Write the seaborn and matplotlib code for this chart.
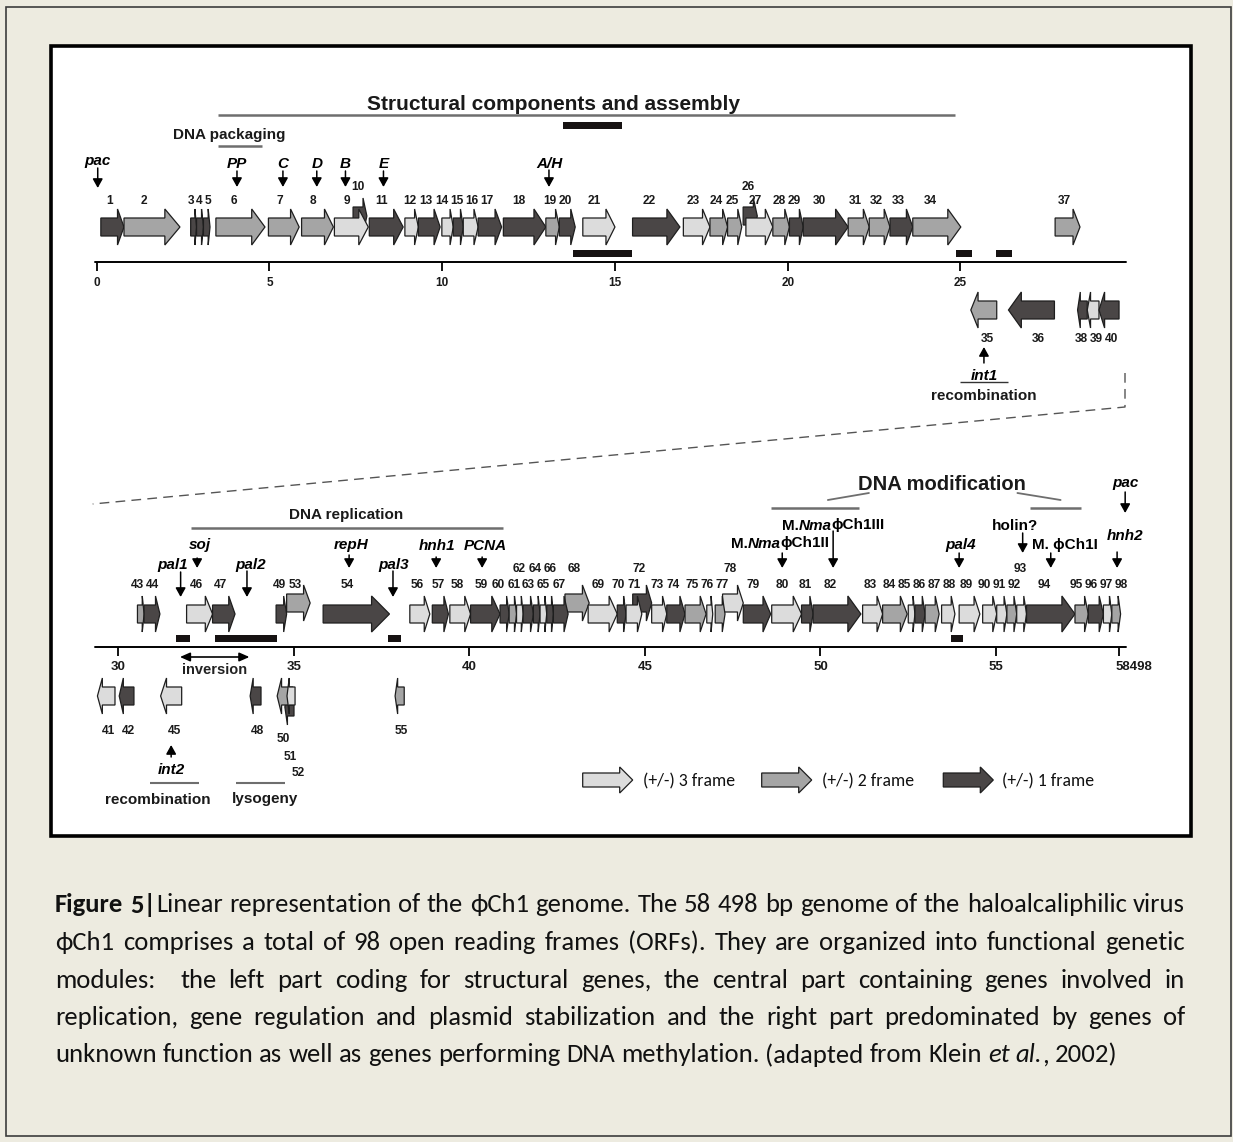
import matplotlib
matplotlib.use("Agg")
import matplotlib.pyplot as plt
from matplotlib.patches import Polygon, Rectangle
from matplotlib import font_manager
import seaborn as sns

# ------------------------------------------------------------------ ORFs (kb)
orf_id = list(range(1, 99))
orf_start = [
    0.12, 0.79, 2.72, 2.89, 3.09, 3.45, 4.97, 5.93, 6.88, 7.42,
    7.89, 8.92, 9.31, 9.99, 10.32, 10.61, 11.04, 11.77, 13.00, 13.39,
    14.07, 15.51, 16.98, 17.75, 18.26, 18.71, 18.79, 19.57, 20.05, 20.45,
    21.75, 22.36, 22.96, 23.62, 25.30, 26.39, 27.74, 28.39, 28.67, 29.01,
    29.40, 30.02, 30.54, 30.73, 31.20, 31.94, 32.68, 33.75, 34.49, 34.52,
    34.80, 34.74, 34.79, 35.83, 37.88, 38.30, 38.94, 39.44, 40.03, 40.87,
    41.13, 41.34, 41.53, 41.82, 42.01, 42.20, 42.39, 42.72, 43.38, 44.21,
    44.46, 44.65, 45.19, 45.62, 46.14, 46.76, 47.00, 47.21, 47.80, 48.61,
    49.46, 49.79, 51.20, 51.77, 52.50, 52.69, 52.98, 53.45, 53.95, 54.62,
    55.02, 55.31, 55.59, 55.87, 57.25, 57.63, 58.06, 58.30,
]
orf_end = [
    0.79, 2.41, 2.89, 3.09, 3.28, 4.87, 5.86, 6.85, 7.86, 7.82,
    8.87, 9.31, 9.94, 10.32, 10.61, 11.04, 11.72, 13.00, 13.39, 13.85,
    15.00, 16.88, 17.75, 18.26, 18.67, 19.12, 19.57, 20.05, 20.45, 21.75,
    22.36, 22.96, 23.62, 25.01, 26.05, 27.72, 28.46, 28.67, 29.01, 29.59,
    29.90, 30.44, 30.73, 31.18, 31.80, 32.68, 33.32, 34.06, 34.79, 34.97,
    35.03, 35.00, 35.46, 37.72, 38.14, 38.87, 39.40, 40.03, 40.87, 41.13,
    41.34, 41.53, 41.82, 42.01, 42.20, 42.39, 42.81, 43.41, 44.21, 44.46,
    44.91, 45.19, 45.62, 46.14, 46.74, 46.93, 47.28, 47.80, 48.58, 49.46,
    49.79, 51.15, 51.77, 52.47, 52.69, 52.98, 53.38, 53.83, 54.54, 55.02,
    55.31, 55.59, 55.87, 57.25, 57.63, 58.06, 58.30, 58.55,
]
orf_strand = [
    1, 1, 1, 1, 1, 1, 1, 1, 1, 1,
    1, 1, 1, 1, 1, 1, 1, 1, 1, 1,
    1, 1, 1, 1, 1, 1, 1, 1, 1, 1,
    1, 1, 1, 1, -1, -1, 1, -1, -1, -1,
    -1, -1, 1, 1, -1, 1, 1, -1, 1, -1,
    -1, -1, 1, 1, -1, 1, 1, 1, 1, 1,
    1, 1, 1, 1, 1, 1, 1, 1, 1, 1,
    1, 1, 1, 1, 1, 1, 1, 1, 1, 1,
    1, 1, 1, 1, 1, 1, 1, 1, 1, 1,
    1, 1, 1, 1, 1, 1, 1, 1,
]
orf_frame = [
    1, 2, 1, 1, 1, 2, 2, 2, 3, 1,
    1, 3, 1, 3, 1, 3, 1, 1, 2, 1,
    3, 1, 3, 2, 2, 1, 3, 2, 1, 1,
    2, 2, 1, 2, 2, 1, 2, 1, 3, 1,
    3, 1, 2, 1, 3, 3, 1, 1, 1, 2,
    3, 1, 2, 1, 2, 3, 1, 3, 1, 1,
    2, 3, 1, 1, 3, 1, 1, 2, 3, 1,
    3, 1, 3, 1, 2, 3, 2, 3, 1, 3,
    1, 1, 3, 2, 3, 1, 2, 3, 3, 3,
    3, 2, 3, 1, 2, 1, 3, 2,
]
# -1: drawn shifted above its overlapping neighbour, +1: shifted below
orf_lift = [
    0, 0, 0, 0, 0, 0, 0, 0, 0, -1,
    0, 0, 0, 0, 0, 0, 0, 0, 0, 0,
    0, 0, 0, 0, 0, -1, 0, 0, 0, 0,
    0, 0, 0, 0, 0, 0, 0, 0, 0, 0,
    0, 0, 0, 0, 0, 0, 0, 0, 0, 0,
    0, 1, -1, 0, 0, 0, 0, 0, 0, 0,
    0, 0, 0, 0, 0, 0, 0, -1, 0, 0,
    0, -1, 0, 0, 0, 0, 0, -1, 0, 0,
    0, 0, 0, 0, 0, 0, 0, 0, 0, 0,
    0, 0, 0, 0, 0, 0, 0, 0,
]
last_upper_orf = 40
genome_length_kb = 58.498

# black boxes: palindromes / repeat elements (kb)
element_start = [13.50, 13.78, 24.87, 26.03, 31.63, 32.75, 37.67, 53.71]
element_end = [15.21, 15.48, 25.33, 26.48, 32.04, 34.52, 38.05, 54.05]
element_above = [True, False, False, False, False, False, False, False]
element_map = ["upper", "upper", "upper", "upper", "lower", "lower", "lower", "lower"]

# named genes / sites with pointer arrows
site_name = ["pac", "PP", "C", "D", "B", "E", "A/H", "int1",
             "int2", "pal1", "soj", "pal2", "repH", "pal3", "hnh1", "PCNA",
             "M.NmaϕCh1II", "M.NmaϕCh1III", "pal4", "holin?", "M. ϕCh1I", "pac", "hnh2"]
site_kb = [0.03, 4.06, 5.39, 6.37, 7.20, 8.30, 13.09, 25.68,
           31.50, 31.77, 32.24, 33.66, 36.57, 37.82, 39.05, 40.36,
           48.91, 50.36, 53.95, 55.76, 56.56, 58.68, 58.45]

# functional modules
module_name = ["Structural components and assembly", "DNA packaging", "recombination",
               "DNA replication", "recombination", "lysogeny"]
module_start = [3.51, 3.51, 24.99, 32.06, 30.90, 33.35]
module_end = [24.84, 4.78, 26.38, 40.96, 32.29, 34.74]
modification_start = [48.58, 55.97]
modification_end = [51.11, 57.42]
inversion_kb = [31.75, 33.73]

upper_ticks = [0, 5, 10, 15, 20, 25]
lower_ticks = [30, 35, 40, 45, 50, 55, genome_length_kb]

legend_frames = [3, 2, 1]
legend_labels = ["(+/-) 3 frame", "(+/-) 2 frame", "(+/-) 1 frame"]

caption_lines = [
    [("Figure 5|", "bold", "normal"),
     ("Linear representation of the ϕCh1 genome. The 58 498 bp genome of the haloalcaliphilic virus",
      "normal", "normal")],
    [("ϕCh1 comprises a total of 98 open reading frames (ORFs). They are organized into functional genetic",
      "normal", "normal")],
    [("modules:  the left part coding for structural genes, the central part containing genes involved in",
      "normal", "normal")],
    [("replication, gene regulation and plasmid stabilization and the right part predominated by genes of",
      "normal", "normal")],
    [("unknown function as well as genes performing DNA methylation. (adapted from Klein ", "normal", "normal"),
     ("et al.", "normal", "italic"), (", 2002)", "normal", "normal")],
]

# ------------------------------------------------------------------ style
sns.set_theme(style="white")


def installed(name):
    try:
        font_manager.findfont(font_manager.FontProperties(family=name),
                              fallback_to_default=False)
        return True
    except ValueError:
        return False


SANS = ["Liberation Sans", "DejaVu Sans"]
HAS_NARROW = installed("Liberation Sans Narrow")
NARROW = (["Liberation Sans Narrow"] if HAS_NARROW else []) + SANS
NUM_SIZE = 10 if HAS_NARROW else 8.6
BODY = [f for f in ("Carlito", "Lato") if installed(f)] + ["DejaVu Sans"]
plt.rcParams["font.family"] = SANS

PAGE = "#EDEBE0"
EDGE = "#1E1E1E"
GREY_LINE = "#6E6E6E"
frame_colors = dict(zip([1, 2, 3], sns.color_palette(["#4A4646", "#A5A5A5", "#DCDCDC"])))

W, H = 1233, 1142
fig = plt.figure(figsize=(W / 100, H / 100), dpi=100)
fig.patch.set_facecolor(PAGE)
renderer = fig.canvas.get_renderer()

ax_page = fig.add_axes([0, 0, 1, 1], label="page")
ax_page.set_xlim(0, W)
ax_page.set_ylim(H, 0)
ax_page.set_axis_off()

# outer frame and the white panel
ax_page.add_patch(Rectangle((6, 7), 1225, 1129, facecolor="none", edgecolor="#3C3C3C", lw=1.2))
ax_page.add_patch(Rectangle((51, 46), 1140, 790, facecolor="white", edgecolor="black", lw=2.6))

# map layouts: kb anchor, its pixel column, pixels per kb, track rows
MAPS = {
    "upper": dict(kb0=0.0, px0=96.7, ppk=34.55, fwd=227, rev=310, ruler=262,
                  lab1=200, lab2=185, revlab=337, elem_below=253, elem_above=125.7,
                  tick_lab=282, tick_size=8.5, ruler_span=(-0.05, 29.79)),
    "lower": dict(kb0=30.0, px0=118.5, ppk=35.1, fwd=614, rev=696, ruler=646.7,
                  lab1=584, lab2=568, revlab=729, elem_below=638, elem_above=None,
                  tick_lab=666, tick_size=9.5, ruler_span=(29.33, 58.70)),
}
axes = {}
for key, m in MAPS.items():
    ax = fig.add_axes([0, 0, 1, 1], label=key)
    ax.set_xlim(m["kb0"] - m["px0"] / m["ppk"], m["kb0"] + (W - m["px0"]) / m["ppk"])
    ax.set_ylim(H, 0)
    ax.set_axis_off()
    ax.patch.set_alpha(0)
    axes[key] = ax


def head_px(length_px):
    return min(0.28 * length_px, max(13.0, 0.27 * length_px))


def orf_shape(ax, start, end, strand, yc, color, ppk, body=9.0, head=18.0, hl_px=None, z=3):
    length_px = (end - start) * ppk
    hl = (head_px(length_px) if hl_px is None else hl_px) / ppk
    if strand > 0:
        base, tip, tail = end - hl, end, start
    else:
        base, tip, tail = start + hl, start, end
    xs = [tail, base, base, tip, base, base, tail]
    ys = [yc - body, yc - body, yc - head, yc, yc + head, yc + body, yc + body]
    ax.add_patch(Polygon(list(zip(xs, ys)), closed=True, facecolor=color,
                         edgecolor=EDGE, lw=0.9, joinstyle="miter", zorder=z))
    return (tail + base) / 2


def measure(ax, s, **kw):
    t = ax.text(0, 0, s, **kw)
    w = t.get_window_extent(renderer).width
    t.remove()
    return w


def draw_runs(ax, x, y, runs, size, ha="center", family=None, z=6):
    family = family or SANS
    ppu = ax.transData.transform((1, 0))[0] - ax.transData.transform((0, 0))[0]
    kws = [dict(fontsize=size, fontweight=wt, fontstyle=st, family=family) for _, wt, st in runs]
    widths = [measure(ax, s, **kw) / ppu for (s, _, _), kw in zip(runs, kws)]
    total = sum(widths)
    x0 = x - total / 2 if ha == "center" else (x if ha == "left" else x - total)
    for (s, _, _), kw, w in zip(runs, kws, widths):
        ax.text(x0, y, s, ha="left", va="center_baseline", color="black", zorder=z, **kw)
        x0 += w


def spread(xs, ws, pad):
    """Push neighbouring labels apart until none overlap."""
    xs = list(xs)
    for _ in range(400):
        moved = False
        for i in range(len(xs) - 1):
            d = (ws[i] + ws[i + 1]) / 2 + pad - (xs[i + 1] - xs[i])
            if d > 1e-6:
                xs[i] -= d / 2
                xs[i + 1] += d / 2
                moved = True
        if not moved:
            break
    return xs


# ------------------------------------------------------------------ ORFs
LIFT_PX = 11
upper_row_labels = {10, 26, 62, 64, 66, 68, 72, 78, 93}
stagger = {50: (738, -4), 51: (755, -2), 52: (771, 8)}
NUM_KW = dict(fontsize=NUM_SIZE, fontweight="bold", family=NARROW)

rows = {}
order = sorted(range(len(orf_id)), key=lambda i: 0 if orf_lift[i] else 1)
for i in order:
    n = orf_id[i]
    key = "upper" if n <= last_upper_orf else "lower"
    m, ax = MAPS[key], axes[key]
    yc = (m["fwd"] if orf_strand[i] > 0 else m["rev"]) + LIFT_PX * orf_lift[i]
    xc = orf_shape(ax, orf_start[i], orf_end[i], orf_strand[i], yc,
                   frame_colors[orf_frame[i]], m["ppk"], z=2 if orf_lift[i] else 3)
    if orf_strand[i] > 0:
        ly = m["lab2"] if n in upper_row_labels else m["lab1"]
    else:
        ly = m["revlab"]
    if n in stagger:
        ly, dx = stagger[n]
        xc += dx / m["ppk"]
    rows.setdefault((key, ly), []).append((xc, str(n)))

# number labels, spread apart where ORFs are packed tightly
for (key, ly), items in rows.items():
    m, ax = MAPS[key], axes[key]
    items.sort()
    ws = [measure(ax, s, **NUM_KW) / m["ppk"] for _, s in items]
    xs = spread([x for x, _ in items], ws, 1.8 / m["ppk"])
    for x, (_, s) in zip(xs, items):
        ax.text(x, ly, s, ha="center", va="center_baseline", color="#1A1A1A", **NUM_KW)

# ------------------------------------------------------------------ rulers
for key, ticks in (("upper", upper_ticks), ("lower", lower_ticks)):
    m, ax = MAPS[key], axes[key]
    ax.plot(m["ruler_span"], [m["ruler"], m["ruler"]], color="black", lw=1.4, zorder=4)
    ax.vlines(ticks, m["ruler"], m["ruler"] + 9, color="black", lw=1.3, zorder=4)
    for t in ticks:
        label = str(int(t)) if float(t).is_integer() else str(round(t * 1000))
        dx = 0 if float(t).is_integer() else 15 / m["ppk"]
        ax.text(t + dx, m["tick_lab"], label, ha="center", va="center_baseline",
                fontsize=m["tick_size"], fontweight="bold", family=SANS, color="#1A1A1A")

# black element boxes
for s, e, above, key in zip(element_start, element_end, element_above, element_map):
    m, ax = MAPS[key], axes[key]
    y = m["elem_above"] if above else m["elem_below"]
    ax.add_patch(Rectangle((s, y - 3.5), e - s, 7, facecolor="#161212", edgecolor="none", zorder=4))

# ------------------------------------------------------------------ sites
site_label_y = [159, 163, 163, 163, 163, 163, 162, 374,
                769, 563, 544, 563, 543, 563, 544, 544,
                542, 524, 543, 525, 543, 481, 535]
site_label_dx = [0, 0, 0, 0, 0, 0, 0, 0,
                 0, -7.7, 3, 4, 2, 1, 1, 3,
                 -2, 0, 2, -8, 14, 0, 8]
site_arrow = [(168, 188), (171, 187), (171, 187), (171, 187), (171, 187), (171, 187), (170, 187), (363, 347),
              (757, 745), (572, 597), (558, 568), (571, 597), (555, 568), (571, 597), (557, 568), (557, 568),
              (553, 568), (531, 568), (553, 568), (533, 553), (553, 568), (492, 513), (552, 568)]
ARROW = dict(arrowstyle="-|>,head_length=0.45,head_width=0.25", lw=1.1, color="black",
             shrinkA=0, shrinkB=0, mutation_scale=12)


def site_runs(name):
    if name.startswith("M.N"):
        return [("M.", "bold", "normal"), ("Nma", "bold", "italic"), (name[5:], "bold", "normal")]
    if name.startswith("M.") or name == "holin?":
        return [(name, "bold", "normal")]
    return [(name, "bold", "italic")]


for k, (name, kb) in enumerate(zip(site_name, site_kb)):
    key = "upper" if k < 8 else "lower"
    m, ax = MAPS[key], axes[key]
    y0, y1 = site_arrow[k]
    ax.annotate("", xy=(kb, y1), xytext=(kb, y0), arrowprops=ARROW, zorder=5)
    draw_runs(ax, kb + site_label_dx[k] / m["ppk"], site_label_y[k], site_runs(name), 11)

# ------------------------------------------------------------------ modules
module_map = ["upper", "upper", "upper", "lower", "lower", "lower"]
module_line_y = [115, 146, 382, 528, 783, 783]
module_label_y = [103, 133, 395, 514, 798, 798]
module_label_kb = [13.22, 3.84, 25.68, 36.48, 31.13, 34.17]
module_size = [15, 11, 11, 11, 11, 11]
module_line_w = [1.8, 1.8, 1.0, 1.8, 1.5, 1.5]
for k, name in enumerate(module_name):
    ax = axes[module_map[k]]
    ax.plot([module_start[k], module_end[k]], [module_line_y[k]] * 2,
            color=GREY_LINE if module_line_w[k] > 1.2 else "#333333", lw=module_line_w[k],
            solid_capstyle="butt")
    ax.text(module_label_kb[k], module_label_y[k], name, ha="center", va="center_baseline",
            fontsize=module_size[k], fontweight="bold", family=SANS, color="#1A1A1A")

ax = axes["lower"]
for s, e in zip(modification_start, modification_end):
    ax.plot([s, e], [508, 508], color=GREY_LINE, lw=1.8, solid_capstyle="butt")
ax.plot([50.21, 51.38], [500, 493], color=GREY_LINE, lw=1.3)
ax.plot([55.61, 56.84], [493, 500], color=GREY_LINE, lw=1.3)
ax.text(53.46, 483, "DNA modification", ha="center", va="center_baseline",
        fontsize=14.5, fontweight="bold", family=SANS, color="#1A1A1A", zorder=6)

ax.annotate("", xy=(inversion_kb[0], 657), xytext=(inversion_kb[1], 657),
            arrowprops=dict(arrowstyle="<|-|>,head_length=0.5,head_width=0.22", lw=1.2,
                            color="black", shrinkA=0, shrinkB=0, mutation_scale=12))
ax.text(sum(inversion_kb) / 2, 669, "inversion", ha="center", va="center_baseline",
        fontsize=10.5, fontweight="bold", family=SANS, color="#222222")

# dashed connector between the two map halves
ax_page.plot([1125, 1125, 92.7], [373, 407, 504], color="#555555", lw=1.0,
             dashes=(7, 4.5), zorder=1)

# ------------------------------------------------------------------ legend
legend_arrow_x = [582.7, 761.7, 943.3]
legend_text_x = [642.7, 821.7, 1001.7]
leg_size = 12 * 92 / measure(ax_page, legend_labels[0], fontsize=12, family=BODY)
for f, lab, xa, xt in zip(legend_frames, legend_labels, legend_arrow_x, legend_text_x):
    orf_shape(ax_page, xa, xa + 50, 1, 780, frame_colors[f], 1.0, body=7, head=13, hl_px=13)
    ax_page.text(xt, 780, lab, ha="left", va="center_baseline", fontsize=leg_size, family=BODY,
                 color="#111111")

# ------------------------------------------------------------------ caption
CAP_LEFT, CAP_RIGHT, CAP_TOP, CAP_STEP = 55, 1185, 903, 37.5


def words_of(runs):
    words, gaps, cur, gap = [], [], [], 0
    for text, weight, style in runs:
        for j, part in enumerate(text.split(" ")):
            if j > 0:
                if cur:
                    words.append(cur)
                    gaps.append(gap)
                    cur, gap = [], 0
                gap += 1
            if part:
                cur.append((part, weight, style))
    if cur:
        words.append(cur)
        gaps.append(gap)
    return words, gaps


def piece_w(s, size, weight, style):
    return measure(ax_page, s, fontsize=size, fontweight=weight, fontstyle=style, family=BODY)


def natural_width(runs, size):
    words, gaps = words_of(runs)
    sp = piece_w("n n", size, "normal", "normal") - piece_w("nn", size, "normal", "normal")
    return sum(piece_w(p[0], size, p[1], p[2]) for w in words for p in w) + sp * sum(gaps[1:])


cap_size = 13 * 1058 / natural_width(caption_lines[-1], 13)
space_w = piece_w("n n", cap_size, "normal", "normal") - piece_w("nn", cap_size, "normal", "normal")
for li, runs in enumerate(caption_lines):
    words, gaps = words_of(runs)
    widths = [[piece_w(s, cap_size, wt, st) for s, wt, st in w] for w in words]
    total = sum(sum(w) for w in widths)
    units = sum(gaps[1:])
    sp = (CAP_RIGHT - CAP_LEFT - total) / units if li < len(caption_lines) - 1 else space_w
    x, y = CAP_LEFT, CAP_TOP + CAP_STEP * li
    for j, (w, ws) in enumerate(zip(words, widths)):
        if j:
            x += gaps[j] * sp
        for (s, wt, st), pw in zip(w, ws):
            ax_page.text(x, y, s, ha="left", va="center_baseline", fontsize=cap_size,
                         fontweight=wt, fontstyle=st, family=BODY, color="#111111")
            x += pw

fig.savefig("out.png", dpi=100, facecolor=PAGE)
